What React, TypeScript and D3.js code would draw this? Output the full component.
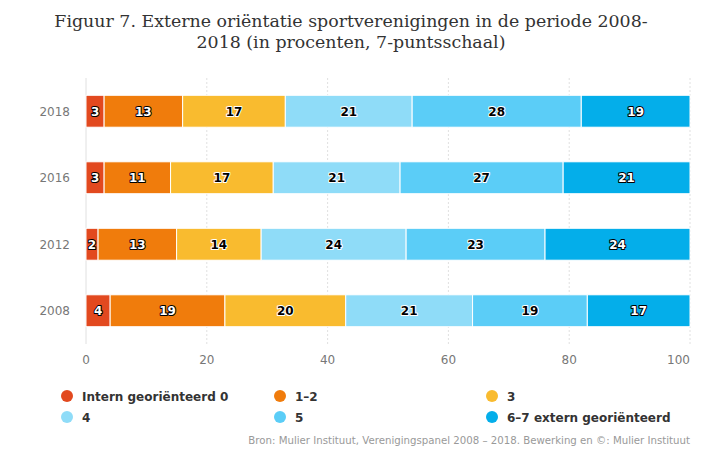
import React from "react";
import * as d3 from "d3";

const categories = ["2018", "2016", "2012", "2008"];
const seriesNames = ["Intern georiënteerd 0", "1–2", "3", "4", "5", "6–7 extern georiënteerd"];
const seriesColors = ["#e2491f", "#f07c0c", "#f9bb2f", "#8fdcf8", "#5bcdf7", "#04aeea"];
const labelDark = [true, true, false, false, false, true];
const values2018 = [3, 13, 17, 21, 28, 19];
const values2016 = [3, 11, 17, 21, 27, 21];
const values2012 = [2, 13, 14, 24, 23, 24];
const values2008 = [4, 19, 20, 21, 19, 17];
const rows = [values2018, values2016, values2012, values2008];
const xTicks = [0, 20, 40, 60, 80, 100];

const W = 702;
const H = 456;

export default function App() {
  const x = d3.scaleLinear().domain([0, 100]).range([86, 690]).clamp(true);
  const y = d3.scaleBand<string>().domain(categories).range([78, 344]).paddingInner(0.52).paddingOuter(0.26);
  const bw = y.bandwidth();
  const font = "'DejaVu Sans', Verdana, sans-serif";

  const legendCols = [67, 280, 492];
  const legendRows = [396, 417];

  return (
    <svg width={W} height={H} style={{ position: "absolute", left: 0, top: 0, background: "#fff" }}>
      <rect width={W} height={H} fill="#fff" />
      <text x={351} y={27} textAnchor="middle" fontFamily="'DejaVu Serif', serif" fontSize={17.4} fill="#333">
        Figuur 7. Externe oriëntatie sportverenigingen in de periode 2008-
      </text>
      <text x={351} y={48} textAnchor="middle" fontFamily="'DejaVu Serif', serif" fontSize={17.4} fill="#333">
        2018 (in procenten, 7-puntsschaal)
      </text>
      {xTicks.map((t, ti) => (
        <g key={t}>
          <line
            x1={x(t)}
            x2={x(t)}
            y1={78}
            y2={344}
            stroke="#e0e0e0"
            strokeWidth={1}
            strokeDasharray={ti === 0 ? undefined : "2,2"}
          />
          <text
            x={x(t)}
            y={364}
            textAnchor={ti === xTicks.length - 1 ? "end" : "middle"}
            fontFamily={font}
            fontSize={12}
            fill="#777"
          >
            {t}
          </text>
        </g>
      ))}
      {categories.map((c, ci) => {
        const vals = rows[ci];
        const stacks = d3.cumsum(vals);
        const y0 = y(c)!;
        return (
          <g key={c}>
            <text x={70} y={y0 + bw / 2 + 4.5} textAnchor="end" fontFamily={font} fontSize={12} fill="#777">
              {c}
            </text>
            {vals.map((v, i) => {
              const start = stacks[i] - v;
              const x0 = x(start);
              const x1 = x(stacks[i]);
              return (
                <g key={i}>
                  <rect x={x0} y={y0} width={x1 - x0} height={bw} fill={seriesColors[i]} stroke="#fff" strokeWidth={1} />
                  <text
                    x={(x0 + x1) / 2}
                    y={y0 + bw / 2 + 4.5}
                    textAnchor="middle"
                    fontFamily={font}
                    fontSize={12}
                    fontWeight="bold"
                    fill={labelDark[i] ? "#fff" : "#000"}
                    stroke={labelDark[i] ? "#000" : "#fff"}
                    strokeWidth={2}
                    strokeLinejoin="round"
                    style={{ paintOrder: "stroke" }}
                  >
                    {v}
                  </text>
                </g>
              );
            })}
          </g>
        );
      })}
      {seriesNames.map((s, i) => {
        const cx = legendCols[i % 3];
        const cy = legendRows[Math.floor(i / 3)];
        return (
          <g key={s}>
            <circle cx={cx} cy={cy} r={6} fill={seriesColors[i]} />
            <text x={cx + 15} y={cy + 4.5} fontFamily={font} fontSize={12} fontWeight="bold" fill="#333">
              {s}
            </text>
          </g>
        );
      })}
      <text x={690} y={444} textAnchor="end" fontFamily={font} fontSize={10.2} fill="#999">
        Bron: Mulier Instituut, Verenigingspanel 2008 – 2018. Bewerking en ©: Mulier Instituut
      </text>
    </svg>
  );
}
